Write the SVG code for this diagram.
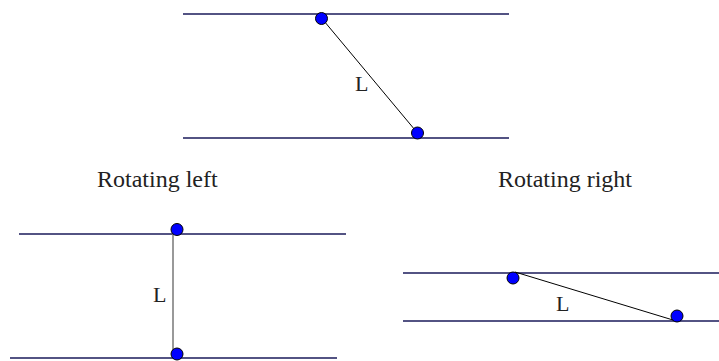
<svg xmlns="http://www.w3.org/2000/svg" width="719" height="361" viewBox="0 0 719 361">
<style>
.rail{stroke:#1a1a5a;stroke-width:1.5;fill:none}
.link{stroke:#000;stroke-width:1;fill:none}
.pt{fill:#0000ff;stroke:#000;stroke-width:1}
.lbl{font-family:"Liberation Serif","Times New Roman","DejaVu Serif",serif;font-size:24px;fill:#222}
.cap{font-family:"Liberation Serif","Times New Roman","DejaVu Serif",serif;font-size:22px;fill:#222}
</style>
<rect width="719" height="361" fill="#fff"/>
<g id="top-config">
<line class="rail" x1="183" y1="14" x2="509" y2="14"/>
<line class="rail" x1="183" y1="138" x2="509" y2="138"/>
<line class="link" x1="321.5" y1="18" x2="417.5" y2="133"/>
<circle class="pt" cx="321.5" cy="18.5" r="6"/>
<circle class="pt" cx="417.5" cy="133" r="6"/>
<text class="cap" x="355" y="91">L</text>
</g>
<g id="left-config">
<line class="rail" x1="19" y1="234" x2="346" y2="234"/>
<line class="rail" x1="10" y1="358" x2="337" y2="358"/>
<line x1="173" y1="234" x2="173" y2="357" stroke="#777" stroke-width="1.5"/>
<circle class="pt" cx="177" cy="229.5" r="6"/>
<circle class="pt" cx="177" cy="354" r="6"/>
<text class="cap" x="153" y="302">L</text>
</g>
<g id="right-config">
<line class="rail" x1="403" y1="273" x2="719" y2="273"/>
<line class="rail" x1="403" y1="321" x2="719" y2="321"/>
<line class="link" x1="515" y1="272" x2="673" y2="320"/>
<circle class="pt" cx="513" cy="278" r="6"/>
<circle class="pt" cx="677" cy="316" r="6"/>
<text class="cap" x="556" y="311">L</text>
</g>
<g id="captions">
<text class="lbl" x="97" y="187">Rotating left</text>
<text class="lbl" x="498" y="187">Rotating right</text>
</g>
</svg>
